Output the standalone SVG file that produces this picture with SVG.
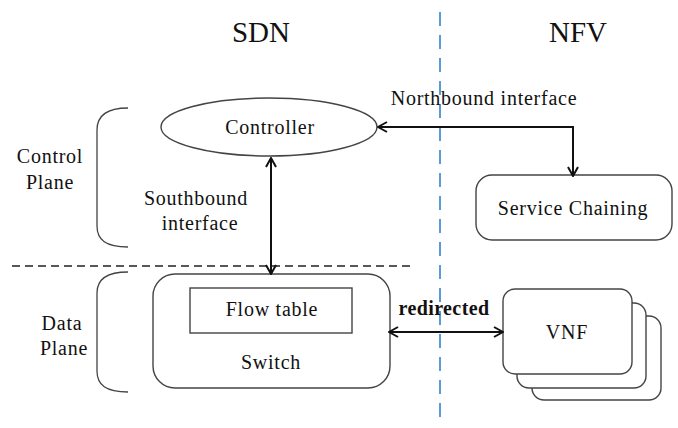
<svg xmlns="http://www.w3.org/2000/svg" width="678" height="428" viewBox="0 0 678 428">
  <style>
    text { font-family: "Liberation Serif", "DejaVu Serif", serif; fill: #111; }
    .lbl { font-size: 20px; letter-spacing: 0.75px; text-anchor: middle; }
    .title { font-size: 29px; text-anchor: middle; }
    .bold { font-size: 20px; font-weight: bold; letter-spacing: 0.4px; text-anchor: middle; }
    .shape { fill: #fff; stroke: #444; stroke-width: 1.4; }
    .brace { fill: none; stroke: #444; stroke-width: 1.3; }
    .link { fill: none; stroke: #111; stroke-width: 2; }
  </style>
  <defs>
    <marker id="arrow" viewBox="0 0 12 12" refX="11" refY="6" markerWidth="12" markerHeight="12" markerUnits="userSpaceOnUse" orient="auto-start-reverse">
      <path d="M2,1 L11,6 L2,11" fill="none" stroke="#111" stroke-width="2"/>
    </marker>
  </defs>

  <rect width="678" height="428" fill="#fff"/>

  <!-- domain split and plane split -->
  <line x1="440" y1="12" x2="440" y2="420" stroke="#5b9bd5" stroke-width="2" stroke-dasharray="14 9"/>
  <line x1="12" y1="266" x2="415" y2="266" stroke="#222" stroke-width="1.5" stroke-dasharray="8 5"/>

  <!-- headings -->
  <text class="title" x="261" y="42">SDN</text>
  <text class="title" x="578" y="42">NFV</text>

  <!-- plane brackets and labels -->
  <g id="control-plane">
    <path class="brace" d="M128,108 C106,108 97,116 97,130 L97,226 C97,240 106,247 128,247"/>
    <text class="lbl" x="50" y="163">Control</text>
    <text class="lbl" x="50" y="189">Plane</text>
  </g>
  <g id="data-plane">
    <path class="brace" d="M128,272 C106,272 97,280 97,293 L97,371 C97,385 106,392 128,392"/>
    <text class="lbl" x="62" y="330">Data</text>
    <text class="lbl" x="64" y="355">Plane</text>
  </g>

  <!-- nodes -->
  <g id="controller">
    <ellipse class="shape" cx="269" cy="127" rx="108" ry="29"/>
    <text class="lbl" x="270" y="134">Controller</text>
  </g>

  <g id="service-chaining">
    <rect class="shape" x="476" y="175" width="196" height="65" rx="16"/>
    <text class="lbl" x="573" y="215">Service Chaining</text>
  </g>

  <g id="switch">
    <rect class="shape" x="153" y="274" width="237" height="114" rx="22"/>
    <rect class="shape" x="190" y="288" width="162" height="45" rx="0"/>
    <text class="lbl" x="272" y="316">Flow table</text>
    <text class="lbl" x="271" y="369">Switch</text>
  </g>

  <g id="vnf">
    <rect class="shape" x="532" y="316" width="129" height="84" rx="12"/>
    <rect class="shape" x="517" y="303" width="129" height="85" rx="12"/>
    <rect class="shape" x="503" y="289" width="129" height="85" rx="12"/>
    <text class="lbl" x="567" y="339">VNF</text>
  </g>

  <!-- connectors -->
  <g id="connectors">
    <path class="link" d="M573,176 L573,127 L378,127" marker-start="url(#arrow)" marker-end="url(#arrow)"/>
    <line class="link" x1="271" y1="158" x2="271" y2="274" marker-start="url(#arrow)" marker-end="url(#arrow)"/>
    <line class="link" x1="389" y1="332" x2="503" y2="332" marker-start="url(#arrow)" marker-end="url(#arrow)"/>
    <text class="lbl" x="484" y="105">Northbound interface</text>
    <text class="lbl" x="196" y="205">Southbound</text>
    <text class="lbl" x="200" y="230">interface</text>
    <text class="bold" x="444" y="315">redirected</text>
  </g>
</svg>
